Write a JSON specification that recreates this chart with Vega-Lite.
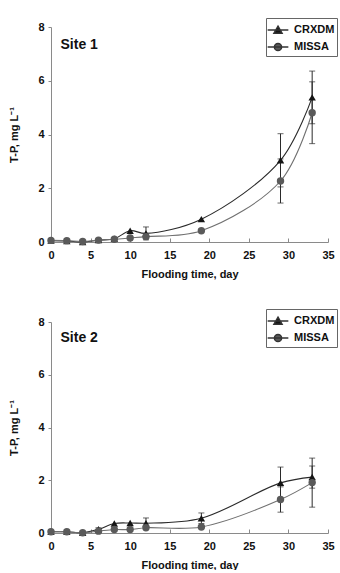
{
  "$schema": "https://vega.github.io/schema/vega-lite/v6.json",
  "autosize": {"type": "pad"},
  "padding": {"left": 8, "top": 17, "right": 0, "bottom": 0},
  "background": "white",
  "bounds": "flush",
  "spacing": 80,
  "config": {
    "view": {"stroke": null},
    "font": "Liberation Sans",
    "axis": {
      "grid": false,
      "domainColor": "#8a8a8a",
      "tickColor": "#8a8a8a",
      "labelFont": "Liberation Sans",
      "labelFontWeight": "bold",
      "labelFontSize": 11,
      "labelColor": "#111111",
      "titleFont": "Liberation Sans",
      "titleFontWeight": "bold",
      "titleFontSize": 11,
      "titleColor": "#111111"
    },
    "axisX": {"tickSize": -4, "labelPadding": 11, "titlePadding": 8, "labelFlush": false, "labelOverlap": false, "tickCount": 7},
    "axisY": {"tickSize": 3, "labelPadding": 4, "titlePadding": 18},
    "legend": {
      "strokeColor": "#666666",
      "fillColor": "white",
      "padding": 2,
      "labelFont": "Liberation Sans",
      "labelFontWeight": "bold",
      "labelFontSize": 11,
      "labelColor": "#111111",
      "symbolSize": 324,
      "rowPadding": 0,
      "labelOffset": 6
    }
  },
  "datasets": {
    "tp": [
      {"site": "Site 1", "series": "CRXDM", "day": 0, "tp": 0.05, "err": 0},
      {"site": "Site 1", "series": "CRXDM", "day": 2, "tp": 0.04, "err": 0},
      {"site": "Site 1", "series": "CRXDM", "day": 4, "tp": 0.0, "err": 0},
      {"site": "Site 1", "series": "CRXDM", "day": 6, "tp": 0.07, "err": 0},
      {"site": "Site 1", "series": "CRXDM", "day": 8, "tp": 0.12, "err": 0},
      {"site": "Site 1", "series": "CRXDM", "day": 10, "tp": 0.42, "err": 0},
      {"site": "Site 1", "series": "CRXDM", "day": 12, "tp": 0.32, "err": 0.24},
      {"site": "Site 1", "series": "CRXDM", "day": 19, "tp": 0.85, "err": 0},
      {"site": "Site 1", "series": "CRXDM", "day": 29, "tp": 3.04, "err": 0.99},
      {"site": "Site 1", "series": "CRXDM", "day": 33, "tp": 5.38, "err": 0.98},
      {"site": "Site 1", "series": "MISSA", "day": 0, "tp": 0.06, "err": 0},
      {"site": "Site 1", "series": "MISSA", "day": 2, "tp": 0.05, "err": 0},
      {"site": "Site 1", "series": "MISSA", "day": 4, "tp": 0.02, "err": 0},
      {"site": "Site 1", "series": "MISSA", "day": 6, "tp": 0.07, "err": 0},
      {"site": "Site 1", "series": "MISSA", "day": 8, "tp": 0.1, "err": 0},
      {"site": "Site 1", "series": "MISSA", "day": 10, "tp": 0.15, "err": 0},
      {"site": "Site 1", "series": "MISSA", "day": 12, "tp": 0.2, "err": 0},
      {"site": "Site 1", "series": "MISSA", "day": 19, "tp": 0.42, "err": 0},
      {"site": "Site 1", "series": "MISSA", "day": 29, "tp": 2.27, "err": 0.82},
      {"site": "Site 1", "series": "MISSA", "day": 33, "tp": 4.81, "err": 1.15},
      {"site": "Site 2", "series": "CRXDM", "day": 0, "tp": 0.05, "err": 0},
      {"site": "Site 2", "series": "CRXDM", "day": 2, "tp": 0.05, "err": 0},
      {"site": "Site 2", "series": "CRXDM", "day": 4, "tp": 0.01, "err": 0},
      {"site": "Site 2", "series": "CRXDM", "day": 6, "tp": 0.14, "err": 0.06},
      {"site": "Site 2", "series": "CRXDM", "day": 8, "tp": 0.36, "err": 0},
      {"site": "Site 2", "series": "CRXDM", "day": 10, "tp": 0.38, "err": 0},
      {"site": "Site 2", "series": "CRXDM", "day": 12, "tp": 0.37, "err": 0.2},
      {"site": "Site 2", "series": "CRXDM", "day": 19, "tp": 0.56, "err": 0.2},
      {"site": "Site 2", "series": "CRXDM", "day": 29, "tp": 1.9, "err": 0.6},
      {"site": "Site 2", "series": "CRXDM", "day": 33, "tp": 2.12, "err": 0.42},
      {"site": "Site 2", "series": "MISSA", "day": 0, "tp": 0.05, "err": 0},
      {"site": "Site 2", "series": "MISSA", "day": 2, "tp": 0.05, "err": 0},
      {"site": "Site 2", "series": "MISSA", "day": 4, "tp": 0.01, "err": 0},
      {"site": "Site 2", "series": "MISSA", "day": 6, "tp": 0.07, "err": 0},
      {"site": "Site 2", "series": "MISSA", "day": 8, "tp": 0.13, "err": 0},
      {"site": "Site 2", "series": "MISSA", "day": 10, "tp": 0.13, "err": 0},
      {"site": "Site 2", "series": "MISSA", "day": 12, "tp": 0.2, "err": 0},
      {"site": "Site 2", "series": "MISSA", "day": 19, "tp": 0.23, "err": 0},
      {"site": "Site 2", "series": "MISSA", "day": 29, "tp": 1.27, "err": 0.48},
      {"site": "Site 2", "series": "MISSA", "day": 33, "tp": 1.91, "err": 0.93}
    ],
    "sites": [
      {"site": "Site 1", "day": 1.2, "tp": 7.32},
      {"site": "Site 2", "day": 1.2, "tp": 7.38}
    ]
  },
  "resolve": {
    "scale": {"color": "independent", "shape": "independent"},
    "legend": {"color": "independent", "shape": "independent"}
  },
  "vconcat": [
    {
      "width": 277,
      "height": 215,
      "layer": [
        {
          "data": {"name": "tp"},
          "transform": [{"filter": "datum.site === 'Site 1' && datum.series === 'CRXDM'"}],
          "mark": {"type": "line", "interpolate": "catmull-rom", "strokeWidth": 1.1, "color": "#2a2a2a"},
          "encoding": {
            "x": {"field": "day", "type": "quantitative", "title": "Flooding time, day", "scale": {"domain": [0, 35], "nice": false}},
            "y": {"field": "tp", "type": "quantitative", "title": "T-P, mg L⁻¹", "scale": {"domain": [0, 8], "nice": false}, "axis": {"values": [0, 2, 4, 6, 8]}}
          }
        },
        {
          "data": {"name": "tp"},
          "transform": [{"filter": "datum.site === 'Site 1' && datum.series === 'MISSA'"}],
          "mark": {"type": "line", "interpolate": "catmull-rom", "strokeWidth": 1.1, "color": "#707070"},
          "encoding": {
            "x": {"field": "day", "type": "quantitative", "title": "Flooding time, day"},
            "y": {"field": "tp", "type": "quantitative", "title": "T-P, mg L⁻¹"}
          }
        },
        {
          "data": {"name": "tp"},
          "transform": [{"filter": "datum.site === 'Site 1' && datum.err > 0"}],
          "mark": {"type": "errorbar", "ticks": {"size": 6, "color": "#2a2a2a"}, "rule": {"color": "#2a2a2a"}},
          "encoding": {
            "x": {"field": "day", "type": "quantitative", "title": "Flooding time, day"},
            "y": {"field": "tp", "type": "quantitative", "title": "T-P, mg L⁻¹"},
            "yError": {"field": "err"}
          }
        },
        {
          "data": {"name": "tp"},
          "transform": [{"filter": "datum.site === 'Site 1' && datum.series === 'CRXDM'"}],
          "mark": {"type": "point", "shape": "triangle-up", "filled": true, "opacity": 1, "size": 55, "color": "#151515"},
          "encoding": {
            "x": {"field": "day", "type": "quantitative", "title": "Flooding time, day"},
            "y": {"field": "tp", "type": "quantitative", "title": "T-P, mg L⁻¹"}
          }
        },
        {
          "data": {"name": "tp"},
          "transform": [{"filter": "datum.site === 'Site 1' && datum.series === 'MISSA'"}],
          "mark": {"type": "point", "shape": "circle", "filled": true, "opacity": 1, "size": 55, "color": "#5a5a5a"},
          "encoding": {
            "x": {"field": "day", "type": "quantitative", "title": "Flooding time, day"},
            "y": {"field": "tp", "type": "quantitative", "title": "T-P, mg L⁻¹"}
          }
        },
        {
          "data": {"name": "tp"},
          "transform": [{"filter": "datum.site === 'Key'"}],
          "mark": {"type": "point", "filled": true, "opacity": 1, "stroke": "#333333", "strokeWidth": 1.1},
          "encoding": {
            "x": {"field": "day", "type": "quantitative", "title": "Flooding time, day"},
            "y": {"field": "tp", "type": "quantitative", "title": "T-P, mg L⁻¹"},
            "color": {"field": "series", "type": "nominal", "scale": {"domain": ["CRXDM", "MISSA"], "range": ["#151515", "#5a5a5a"]}, "legend": {"title": null, "orient": "none", "legendX": 215, "legendY": -9}},
            "shape": {"field": "series", "type": "nominal", "scale": {"domain": ["CRXDM", "MISSA"], "range": ["M-1.15,0L1.15,0M0,-0.42L0.45,0.36L-0.45,0.36Z", "M-1.15,0L1.15,0M0.4,0A0.4,0.4 0 1,1 -0.4,0A0.4,0.4 0 1,1 0.4,0Z"]}, "legend": {"title": null, "orient": "none", "legendX": 215, "legendY": -9}}
          }
        },
        {
          "data": {"name": "sites"},
          "transform": [{"filter": "datum.site === 'Site 1'"}],
          "mark": {"type": "text", "align": "left", "baseline": "middle", "fontSize": 14, "fontWeight": "bold", "color": "#111111"},
          "encoding": {
            "x": {"field": "day", "type": "quantitative", "title": "Flooding time, day"},
            "y": {"field": "tp", "type": "quantitative", "title": "T-P, mg L⁻¹"},
            "text": {"field": "site"}
          }
        }
      ]
    },
    {
      "width": 277,
      "height": 211,
      "layer": [
        {
          "data": {"name": "tp"},
          "transform": [{"filter": "datum.site === 'Site 2' && datum.series === 'CRXDM'"}],
          "mark": {"type": "line", "interpolate": "catmull-rom", "strokeWidth": 1.1, "color": "#2a2a2a"},
          "encoding": {
            "x": {"field": "day", "type": "quantitative", "title": "Flooding time, day", "scale": {"domain": [0, 35], "nice": false}},
            "y": {"field": "tp", "type": "quantitative", "title": "T-P, mg L⁻¹", "scale": {"domain": [0, 8], "nice": false}, "axis": {"values": [0, 2, 4, 6, 8]}}
          }
        },
        {
          "data": {"name": "tp"},
          "transform": [{"filter": "datum.site === 'Site 2' && datum.series === 'MISSA'"}],
          "mark": {"type": "line", "interpolate": "catmull-rom", "strokeWidth": 1.1, "color": "#707070"},
          "encoding": {
            "x": {"field": "day", "type": "quantitative", "title": "Flooding time, day"},
            "y": {"field": "tp", "type": "quantitative", "title": "T-P, mg L⁻¹"}
          }
        },
        {
          "data": {"name": "tp"},
          "transform": [{"filter": "datum.site === 'Site 2' && datum.err > 0"}],
          "mark": {"type": "errorbar", "ticks": {"size": 6, "color": "#2a2a2a"}, "rule": {"color": "#2a2a2a"}},
          "encoding": {
            "x": {"field": "day", "type": "quantitative", "title": "Flooding time, day"},
            "y": {"field": "tp", "type": "quantitative", "title": "T-P, mg L⁻¹"},
            "yError": {"field": "err"}
          }
        },
        {
          "data": {"name": "tp"},
          "transform": [{"filter": "datum.site === 'Site 2' && datum.series === 'CRXDM'"}],
          "mark": {"type": "point", "shape": "triangle-up", "filled": true, "opacity": 1, "size": 55, "color": "#151515"},
          "encoding": {
            "x": {"field": "day", "type": "quantitative", "title": "Flooding time, day"},
            "y": {"field": "tp", "type": "quantitative", "title": "T-P, mg L⁻¹"}
          }
        },
        {
          "data": {"name": "tp"},
          "transform": [{"filter": "datum.site === 'Site 2' && datum.series === 'MISSA'"}],
          "mark": {"type": "point", "shape": "circle", "filled": true, "opacity": 1, "size": 55, "color": "#5a5a5a"},
          "encoding": {
            "x": {"field": "day", "type": "quantitative", "title": "Flooding time, day"},
            "y": {"field": "tp", "type": "quantitative", "title": "T-P, mg L⁻¹"}
          }
        },
        {
          "data": {"name": "tp"},
          "transform": [{"filter": "datum.site === 'Key'"}],
          "mark": {"type": "point", "filled": true, "opacity": 1, "stroke": "#333333", "strokeWidth": 1.1},
          "encoding": {
            "x": {"field": "day", "type": "quantitative", "title": "Flooding time, day"},
            "y": {"field": "tp", "type": "quantitative", "title": "T-P, mg L⁻¹"},
            "color": {"field": "series", "type": "nominal", "scale": {"domain": ["CRXDM", "MISSA"], "range": ["#151515", "#5a5a5a"]}, "legend": {"title": null, "orient": "none", "legendX": 215, "legendY": -13}},
            "shape": {"field": "series", "type": "nominal", "scale": {"domain": ["CRXDM", "MISSA"], "range": ["M-1.15,0L1.15,0M0,-0.42L0.45,0.36L-0.45,0.36Z", "M-1.15,0L1.15,0M0.4,0A0.4,0.4 0 1,1 -0.4,0A0.4,0.4 0 1,1 0.4,0Z"]}, "legend": {"title": null, "orient": "none", "legendX": 215, "legendY": -13}}
          }
        },
        {
          "data": {"name": "sites"},
          "transform": [{"filter": "datum.site === 'Site 2'"}],
          "mark": {"type": "text", "align": "left", "baseline": "middle", "fontSize": 14, "fontWeight": "bold", "color": "#111111"},
          "encoding": {
            "x": {"field": "day", "type": "quantitative", "title": "Flooding time, day"},
            "y": {"field": "tp", "type": "quantitative", "title": "T-P, mg L⁻¹"},
            "text": {"field": "site"}
          }
        }
      ]
    }
  ]
}
